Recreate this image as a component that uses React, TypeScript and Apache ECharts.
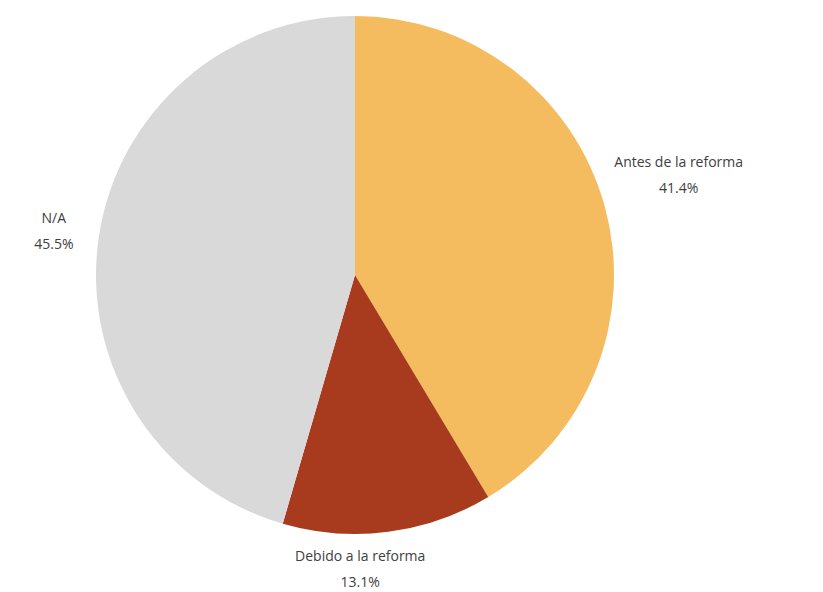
import React, { useEffect, useRef } from 'react';
import * as echarts from 'echarts';

const categories = ['Antes de la reforma', 'Debido a la reforma', 'N/A'];
const values = [41.4, 13.1, 45.5];
const colors = ['#F4BC5E', '#A83A1D', '#D9D9D9'];
// small hand nudges for label placement (pixels)
const labelNudgeX = [-4, -34, -10];
const labelNudgeY = [-10, -9, -3];

export default function App() {
  const ref = useRef<HTMLDivElement>(null);
  useEffect(() => {
    document.body.style.margin = '0';
    const chart = echarts.init(ref.current!, null, { renderer: 'svg' });
    const cx = 355, cy = 275, r = 259, gap = 12;
    const total = values.reduce((a, b) => a + b, 0);
    const mids: number[] = [];
    let acc = 0;
    values.forEach((v) => {
      mids.push(((acc + v / 2) / total) * 2 * Math.PI);
      acc += v;
    });
    chart.setOption({
      animation: false,
      series: [
        {
          type: 'pie',
          center: [cx, cy],
          radius: r,
          startAngle: 90,
          clockwise: true,
          avoidLabelOverlap: false,
          emphasis: { disabled: true },
          data: categories.map((c, i) => ({ name: c, value: values[i], itemStyle: { color: colors[i] } })),
          label: {
            show: true,
            position: 'outside',
            formatter: (p: any) => `${p.name}\n${Number(p.value).toFixed(1)}%`,
            fontSize: 14,
            lineHeight: 26,
            color: '#404040',
            align: 'center',
            fontFamily: '"Open Sans", sans-serif',
          },
          labelLine: { show: false },
          labelLayout: (params: any) => {
            const i = params.dataIndex;
            const a = mids[i];
            const dx = Math.sin(a), dy = -Math.cos(a);
            const w = params.labelRect.width, h = params.labelRect.height;
            const d = r + gap + (Math.abs(dx) * w) / 2 + (Math.abs(dy) * h) / 2;
            return {
              x: cx + dx * d + labelNudgeX[i],
              y: cy + dy * d + labelNudgeY[i],
              align: 'center',
              verticalAlign: 'middle',
            };
          },
        },
      ],
    });
    return () => chart.dispose();
  }, []);
  return <div ref={ref} style={{ width: 823, height: 592 }} />;
}
